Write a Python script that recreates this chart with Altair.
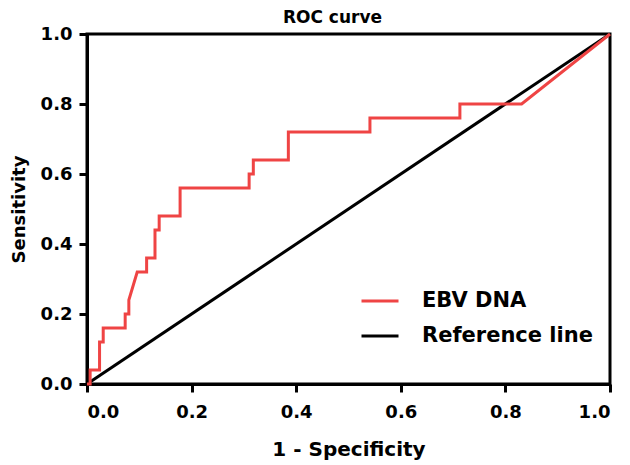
import altair as alt
import pandas as pd

# ROC curve step points (1 - specificity, sensitivity)
roc_x = [0.0, 0.006, 0.006, 0.024, 0.024, 0.031, 0.031, 0.073, 0.073, 0.080, 0.080,
         0.096, 0.114, 0.114, 0.130, 0.130, 0.138, 0.138, 0.178, 0.178, 0.310, 0.310,
         0.318, 0.318, 0.385, 0.385, 0.541, 0.541, 0.713, 0.713, 0.831, 1.0]
roc_y = [0.0, 0.0, 0.04, 0.04, 0.12, 0.12, 0.16, 0.16, 0.20, 0.20, 0.24,
         0.32, 0.32, 0.36, 0.36, 0.44, 0.44, 0.48, 0.48, 0.56, 0.56, 0.60,
         0.60, 0.64, 0.64, 0.72, 0.72, 0.76, 0.76, 0.80, 0.80, 1.0]
ref_x = [0.0, 1.0]
ref_y = [0.0, 1.0]

series_names = ["EBV DNA", "Reference line"]
series_colors = ["#EF4444", "#000000"]

roc_df = pd.DataFrame({"x": roc_x, "y": roc_y, "series": series_names[0],
                       "order": list(range(len(roc_x)))})
ref_df = pd.DataFrame({"x": ref_x, "y": ref_y, "series": series_names[1],
                       "order": list(range(len(ref_x)))})

FONT = "DejaVu Sans"

color = alt.Color("series:N",
                  scale=alt.Scale(domain=series_names, range=series_colors),
                  legend=alt.Legend(title=None, orient="none",
                                    legendX=273, legendY=247,
                                    symbolType="stroke", symbolSize=1369,
                                    symbolStrokeWidth=3, labelFont=FONT,
                                    labelFontWeight="bold", labelFontSize=21,
                                    labelColor="black", labelOffset=22,
                                    labelLimit=400, rowPadding=5, padding=0))

x_enc = alt.X("x:Q", scale=alt.Scale(domain=[0, 1], nice=False),
              axis=alt.Axis(title="1 - Specificity", values=[0, 0.2, 0.4, 0.6, 0.8, 1.0],
                            format=".1f", titlePadding=18, labelPadding=11))
y_enc = alt.Y("y:Q", scale=alt.Scale(domain=[0, 1], nice=False),
              axis=alt.Axis(title="Sensitivity", values=[0, 0.2, 0.4, 0.6, 0.8, 1.0],
                            format=".1f", titlePadding=12, labelPadding=7))

ref_layer = alt.Chart(ref_df).mark_line(strokeWidth=3).encode(
    x=x_enc, y=y_enc, color=color, order="order:Q")
roc_layer = alt.Chart(roc_df).mark_line(strokeWidth=3).encode(
    x=x_enc, y=y_enc, color=color, order="order:Q")

chart = alt.layer(ref_layer, roc_layer).properties(
    width=523, height=350,
    title=alt.TitleParams("ROC curve", font=FONT, fontSize=17, fontWeight="bold",
                          color="black", frame="group", dx=-16, offset=-2),
    autosize=alt.AutoSizeParams(type="none"),
    padding={"left": 79, "top": 26, "right": 12, "bottom": 80},
).configure_view(
    stroke="black", strokeWidth=3
).configure_axis(
    domainColor="black", domainWidth=3, tickColor="black", tickWidth=3, tickSize=8,
    labelFont=FONT, labelFontSize=18, labelFontWeight="bold", labelColor="black",
    titleFont=FONT, titleFontSize=20, titleFontWeight="bold", titleColor="black",
    grid=False
).configure_axisY(titleFontSize=18)

chart.save("out.html", embed_options={"renderer": "svg", "actions": False})
